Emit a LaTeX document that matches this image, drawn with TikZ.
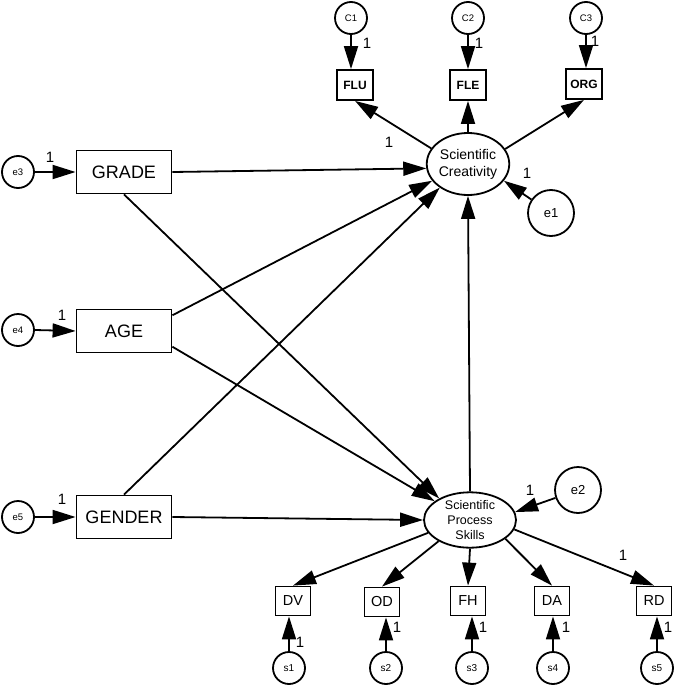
\documentclass[tikz,border=0pt]{standalone}
\usepackage{fontspec}
\setmainfont{Liberation Sans}
\usetikzlibrary{shapes.geometric,arrows.meta}
\begin{document}
\begin{tikzpicture}[x=1pt,y=-1pt,
  lw/.style={line width=1.8pt},
  obs/.style={draw,lw,inner sep=0pt,font=\fontsize{14.5}{14.5}\selectfont},
  big/.style={obs,minimum width=95pt,minimum height=43pt,font=\fontsize{18}{18}\selectfont},
  ind/.style={obs,minimum width=35pt,minimum height=29pt},
  indb/.style={obs,minimum width=36pt,minimum height=30pt,font=\fontsize{12}{12}\selectfont\bfseries},
  lat/.style={ellipse,draw,lw,inner sep=0pt,align=center},
  err/.style={circle,draw,lw,inner sep=0pt},
  errs/.style={err,minimum size=32pt,font=\fontsize{9.5}{9.5}\selectfont},
  errb/.style={err,minimum size=46pt,font=\fontsize{13}{13}\selectfont},
  arr/.style={lw,-{Triangle[length=23pt,width=14pt]}},
  one/.style={font=\fontsize{15}{15}\selectfont,inner sep=0pt}
]
\useasboundingbox (0,0) rectangle (685,688);
% top indicators
\node[errs] (c1) at (351,18) {C1};
\node[errs] (c2) at (468,18) {C2};
\node[errs] (c3) at (586,18) {C3};
\node[indb] (flu) at (355,85) {FLU};
\node[indb] (fle) at (468,85) {FLE};
\node[indb] (org) at (584,84) {ORG};
% latent
\node[lat,minimum width=74pt,minimum height=62pt,font=\fontsize{14}{17}\selectfont] (sc) at (468,164) {Scientific\\Creativity};
\node[errb] (e1) at (551,213) {e1};
\node[lat,minimum width=92pt,minimum height=54pt,font=\fontsize{12.5}{15}\selectfont] (sps) at (470,520) {Scientific\\Process\\Skills};
\node[errb] (e2) at (578,490) {e2};
% exogenous
\node[errs] (e3) at (18,172) {e3};
\node[errs] (e4) at (18,330) {e4};
\node[errs] (e5) at (18,517) {e5};
\node[big] (grade) at (124,172) {GRADE};
\node[big] (age) at (124,331) {AGE};
\node[big] (gender) at (124,517) {GENDER};
% bottom indicators
\node[ind] (dv) at (293,601) {DV};
\node[ind] (od) at (382,602) {OD};
\node[ind] (fh) at (468,601) {FH};
\node[ind] (da) at (552,601) {DA};
\node[ind] (rd) at (654,601) {RD};
\node[errs,font=\fontsize{10}{10}\selectfont] (s1) at (289,668) {s1};
\node[errs,font=\fontsize{10}{10}\selectfont] (s2) at (386,668) {s2};
\node[errs,font=\fontsize{10}{10}\selectfont] (s3) at (472,668) {s3};
\node[errs,font=\fontsize{10}{10}\selectfont] (s4) at (553,668) {s4};
\node[errs,font=\fontsize{10}{10}\selectfont] (s5) at (657,668) {s5};
% arrows top
\draw[arr] (c1.south) -- (c1 |- flu.north);
\draw[arr] (c2.south) -- (c2 |- fle.north);
\draw[arr] (c3.south) -- (c3 |- org.north);
\draw[arr] (sc.157) -- (flu.south);
\draw[arr] (sc.north) -- (fle.south);
\draw[arr] (sc.22) -- (org.south);
\draw[arr] (e1) -- (sc.335);
% exogenous arrows
\draw[arr] (e3.east) -- (grade.west);
\draw[arr] (e4.east) -- (age.west);
\draw[arr] (e5.east) -- (gender.west);
\draw[arr] (grade.east) -- (sc.186);
\draw[arr] (age.18) -- (sc.205);
\draw[arr] (gender.north) -- (sc.220);
\draw[arr] (grade.south) -- (sps.145);
\draw[arr] (age.-18) -- (sps.152);
\draw[arr] (gender.east) -- (sps.west);
\draw[arr] (sps.north) -- (sc.south);
\draw[arr] (e2) -- (sps.10);
% bottom arrows
\draw[arr] (sps.197) -- (dv.north);
\draw[arr] (sps.214) -- (od.north);
\draw[arr] (sps.south) -- (fh.north);
\draw[arr] (sps.332) -- (da.north);
\draw[arr] (sps.348) -- (rd.north);
\draw[arr] (s1.north) -- (s1 |- dv.south);
\draw[arr] (s2.north) -- (s2 |- od.south);
\draw[arr] (s3.north) -- (s3 |- fh.south);
\draw[arr] (s4.north) -- (s4 |- da.south);
\draw[arr] (s5.north) -- (s5 |- rd.south);
% labels "1"
\node[one] (l1) at (367,43) {1};
\node[one] (l2) at (479,43) {1};
\node[one] (l3) at (595,41) {1};
\node[one] (l4) at (389,142) {1};
\node[one] (l5) at (527,173) {1};
\node[one] (l6) at (50,157) {1};
\node[one] (l7) at (62,315) {1};
\node[one] (l8) at (62,499) {1};
\node[one] (l9) at (530,490) {1};
\node[one] (l10) at (623,555) {1};
\node[one] (l11) at (300,642) {1};
\node[one] (l12) at (397,627) {1};
\node[one] (l13) at (483,627) {1};
\node[one] (l14) at (566,627) {1};
\node[one] (l15) at (668,627) {1};
\end{tikzpicture}
\end{document}
